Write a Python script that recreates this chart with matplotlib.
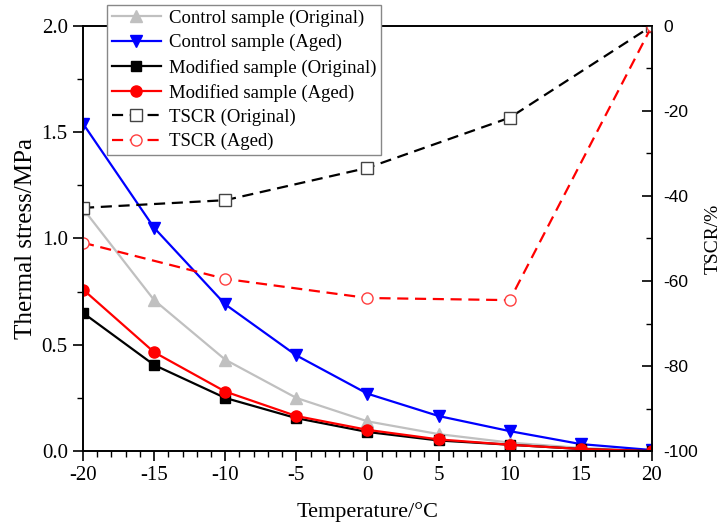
import matplotlib
matplotlib.use("Agg")
import matplotlib.pyplot as plt
from matplotlib.ticker import MultipleLocator

plt.rcParams["axes.unicode_minus"] = False

# Temperatures
temp = [-20, -15, -10, -5, 0, 5, 10, 15, 20]
temp_tscr = [-20, -10, 0, 10, 20]

# Thermal stress (MPa)
control_orig = [1.14, 0.71, 0.43, 0.25, 0.14, 0.08, 0.04, 0.015, 0.0]
control_aged = [1.54, 1.05, 0.69, 0.45, 0.27, 0.165, 0.094, 0.033, 0.005]
modified_orig = [0.65, 0.405, 0.25, 0.155, 0.09, 0.05, 0.03, 0.01, 0.0]
modified_aged = [0.76, 0.465, 0.28, 0.165, 0.10, 0.055, 0.03, 0.01, 0.0]

# TSCR (%)
tscr_orig = [-42.8, -41.0, -33.4, -21.6, 0.0]
tscr_aged = [-51.0, -59.5, -64.0, -64.5, 0.0]

serif = "Liberation Serif"
sans = "Liberation Sans"

fig = plt.figure(figsize=(7.22, 5.27), dpi=100)
ax = fig.add_axes([0.115, 0.144, 0.788, 0.807])
ax2 = ax.twinx()

h1, = ax.plot(temp, control_orig, color="#c0c0c0", lw=1.6, marker="^", ms=8,
              label="Control sample (Original)")
h2, = ax.plot(temp, control_aged, color="#0000ff", lw=1.6, marker="v", ms=8,
              label="Control sample (Aged)")
h3, = ax.plot(temp, modified_orig, color="black", lw=1.6, marker="s", ms=7,
              label="Modified sample (Original)")
h4, = ax.plot(temp, modified_aged, color="#ff0000", lw=1.6, marker="o", ms=8,
              label="Modified sample (Aged)")

h5, = ax2.plot(temp_tscr, tscr_orig, color="black", lw=1.6, ls=(0, (5, 3)),
               marker="s", ms=8, mfc="white", mec="#444444", mew=1.0,
               label="TSCR (Original)")
h6, = ax2.plot(temp_tscr, tscr_aged, color="#ff0000", lw=1.6, ls=(0, (5, 3)),
               marker="o", ms=8, mfc="white", mec="#ff4040", mew=1.0,
               label="TSCR (Aged)")

ax.set_xlim(-20, 20)
ax.set_ylim(0, 2.0)
ax2.set_ylim(-100, 0)

ax.xaxis.set_major_locator(MultipleLocator(5))
ax.xaxis.set_minor_locator(MultipleLocator(1))
ax.set_yticks([0, 0.5, 1.0, 1.5, 2.0])
ax.set_yticklabels([f"{v:.1f}" for v in [0, 0.5, 1.0, 1.5, 2.0]])
ax.yaxis.set_minor_locator(MultipleLocator(0.25))
ax2.yaxis.set_major_locator(MultipleLocator(20))
ax2.yaxis.set_minor_locator(MultipleLocator(10))

ax.tick_params(axis="both", which="major", direction="out", length=7, width=1.2,
               labelsize=15, top=False, right=False, pad=4)
ax.tick_params(axis="both", which="minor", direction="out", length=4, width=1.0,
               top=False, right=False)
ax2.tick_params(axis="y", which="major", direction="in", length=7, width=1.2,
                labelsize=12.5, pad=8)
ax2.tick_params(axis="y", which="minor", direction="in", length=4, width=1.0)

for lab in ax.get_xticklabels() + ax.get_yticklabels():
    lab.set_fontfamily(serif)
for lab in ax2.get_yticklabels():
    lab.set_fontfamily(sans)

for sp in list(ax.spines.values()) + list(ax2.spines.values()):
    sp.set_linewidth(1.2)

ax.set_xlabel("Temperature/°C", fontfamily=serif, fontsize=16, labelpad=12)
ax.set_ylabel("Thermal stress/MPa", fontfamily=serif, fontsize=18, labelpad=3)
ax2.set_ylabel("TSCR/%", fontfamily=serif, fontsize=14, labelpad=5)

leg = ax2.legend(handles=[h1, h2, h3, h4, h5, h6], loc="upper left",
                 bbox_to_anchor=(0.026, 1.071), frameon=True, fancybox=False,
                 framealpha=1.0, edgecolor="#888888", borderpad=0.25,
                 labelspacing=0.38, handlelength=2.6, handletextpad=0.45,
                 prop={"family": serif, "size": 13.5})
leg.get_frame().set_linewidth(1.0)
leg.set_zorder(10)

fig.savefig("out.png", dpi=100)
